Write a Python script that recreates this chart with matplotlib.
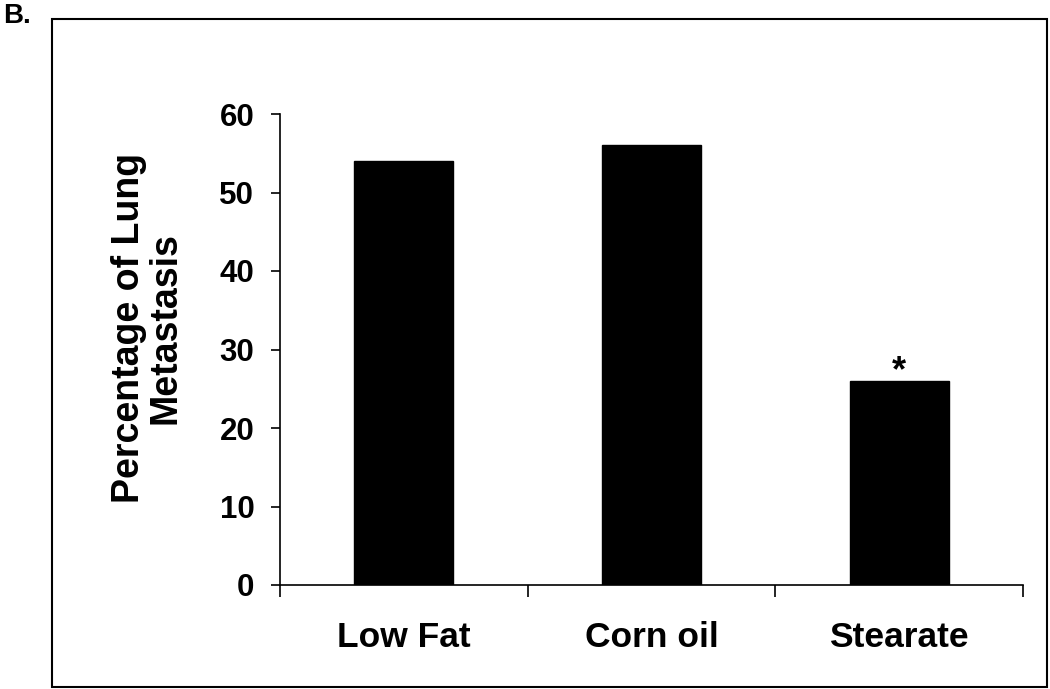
import matplotlib

matplotlib.use('Agg')
import matplotlib.pyplot as plt
from matplotlib.patches import Rectangle

plt.rcParams['font.family'] = ['Liberation Sans', 'DejaVu Sans']
plt.rcParams['font.weight'] = 'bold'

CATEGORIES = ['Low Fat', 'Corn oil', 'Stearate']
VALUES = [54, 56, 26]
STARS = ['', '', '*']
Y_TICKS = [0, 10, 20, 30, 40, 50, 60]

fig = plt.figure(figsize=(10.5, 6.89), dpi=100)
ax = fig.add_axes([280 / 1050, 1 - 585 / 689, (1023 - 280) / 1050, (585 - 114) / 689])

x = list(range(len(CATEGORIES)))
ax.bar(x, VALUES, width=0.4, color='black', edgecolor='black')

# significance mark
for xi, v, s in zip(x, VALUES, STARS):
    if s:
        ax.text(xi, v - 1.0, s, ha='center', va='bottom', fontsize=26, fontweight='bold')

ax.set_xlim(-0.5, 2.5)
ax.set_ylim(0, 60)
ax.set_yticks(Y_TICKS)
ax.set_xticks(x)
ax.set_xticklabels(CATEGORIES, fontsize=25.5, fontweight='bold')
ax.set_xticks([-0.5, 0.5, 1.5, 2.5], minor=True)
ax.tick_params(axis='x', which='major', length=0, pad=26)
ax.tick_params(axis='x', which='minor', length=8.5, width=1.2, direction='out')
ax.tick_params(axis='y', length=6.5, width=1.2, pad=12, labelsize=22.5)
for lab in ax.get_yticklabels():
    lab.set_fontweight('bold')

ax.spines['top'].set_visible(False)
ax.spines['right'].set_visible(False)
ax.spines['left'].set_linewidth(1.2)
ax.spines['bottom'].set_linewidth(1.2)

ax.set_ylabel('Percentage of Lung\nMetastasis', fontsize=27, fontweight='bold', linespacing=1.0)
ax.yaxis.set_label_coords(-0.13, 0.545)

# frame around the whole panel
fig.patches.append(Rectangle((52 / 1050, 1 - 687 / 689), 995 / 1050, 668 / 689,
                             transform=fig.transFigure, fill=False, edgecolor='black', linewidth=1.5))
fig.text(3 / 1050, 1 - 3 / 689, 'B.', ha='left', va='top', fontsize=20, fontweight='bold')

fig.savefig('out.png', dpi=100)
